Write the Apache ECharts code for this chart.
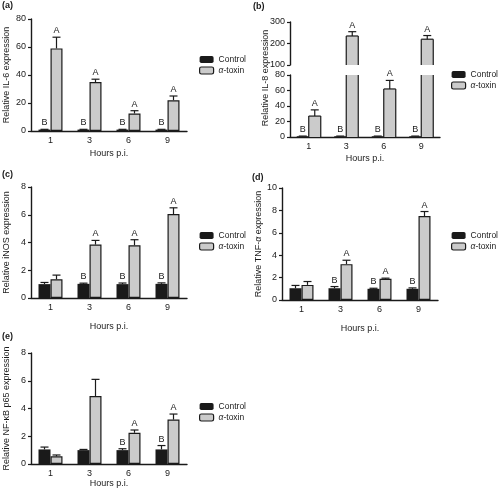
<!DOCTYPE html>
<html><head><meta charset="utf-8">
<script src="https://cdn.jsdelivr.net/npm/echarts@6/dist/echarts.min.js"></script>
<style>html,body{margin:0;padding:0;background:#fff}#c{width:500px;height:493px}</style>
</head><body><div id="c"></div>
<script>
// ---------- data ----------
const hours = ['1', '3', '6', '9'];
const groupNames = ['Control', 'α-toxin'];
const xTitle = 'Hours p.i.';

// (a) IL-6
const il6Ticks = [0, 20, 40, 60, 80];
const il6Control = [1, 1, 1, 1];
const il6ControlErr = [0.2, 0.2, 0.2, 0.2];
const il6Toxin = [59, 35, 12.5, 22];
const il6ToxinErr = [8, 2, 2, 3];
const il6ControlMarks = ['B', 'B', 'B', 'B'];
const il6ToxinMarks = ['A', 'A', 'A', 'A'];

// (b) IL-8 (broken axis)
const il8TicksLow = [0, 20, 40, 60, 80];
const il8TicksHigh = [100, 200, 300];
const il8Control = [1, 1, 1, 1];
const il8ControlErr = [0.2, 0.2, 0.2, 0.2];
const il8Toxin = [27, 235, 62, 220];
const il8ToxinErr = [8, 20, 11, 17];
const il8ControlMarks = ['B', 'B', 'B', 'B'];
const il8ToxinMarks = ['A', 'A', 'A', 'A'];

// (c) iNOS
const inosTicks = [0, 2, 4, 6, 8];
const inosControl = [1.0, 1.02, 1.0, 1.02];
const inosControlErr = [0.12, 0.05, 0.08, 0.07];
const inosToxin = [1.35, 3.85, 3.8, 6.05];
const inosToxinErr = [0.3, 0.3, 0.4, 0.45];
const inosControlMarks = ['', 'B', 'B', 'B'];
const inosToxinMarks = ['', 'A', 'A', 'A'];

// (d) TNF-α
const tnfTicks = [0, 2, 4, 6, 8, 10];
const tnfControl = [1.05, 1.05, 1.0, 1.0];
const tnfControlErr = [0.25, 0.15, 0.05, 0.08];
const tnfToxin = [1.35, 3.2, 1.9, 7.5];
const tnfToxinErr = [0.3, 0.35, 0.05, 0.4];
const tnfControlMarks = ['', 'B', 'B', 'B'];
const tnfToxinMarks = ['', 'A', 'A', 'A'];

// (e) NF-κB p65
const nfkbTicks = [0, 2, 4, 6, 8];
const nfkbControl = [1.05, 1.0, 1.0, 1.05];
const nfkbControlErr = [0.17, 0.05, 0.1, 0.28];
const nfkbToxin = [0.55, 4.9, 2.25, 3.2];
const nfkbToxinErr = [0.1, 1.2, 0.2, 0.4];
const nfkbControlMarks = ['', '', 'B', 'B'];
const nfkbToxinMarks = ['', '', 'A', 'A'];

// ---------- styling ----------
const FONT = '"Liberation Sans", Arial, Helvetica, sans-serif';
const INK = '#1a1a1a';
const TOX_FILL = '#cbcbcb';
const BAR_W = 12;
const CAP = 4;
const FS = 9;
const LFS = 8.5;

const option = {
  animation: false,
  textStyle: { fontFamily: FONT },
  title: [], grid: [], xAxis: [], yAxis: [], series: [], legend: []
};

function addAxes(rect, ticks, o) {
  const idx = option.grid.length;
  option.grid.push(Object.assign({}, rect));
  option.xAxis.push({
    gridIndex: idx, type: 'category', data: hours, show: o.showX !== false,
    axisLine: { lineStyle: { color: INK, width: 1.4 } },
    axisTick: { alignWithLabel: true, length: 3, lineStyle: { color: INK, width: 1.2 } },
    axisLabel: { color: INK, fontSize: FS, margin: 5, fontFamily: FONT },
    name: o.showX !== false ? xTitle : '', nameLocation: 'middle', nameGap: o.xNameGap || 18,
    nameTextStyle: { color: INK, fontSize: FS, fontFamily: FONT }
  });
  option.yAxis.push({
    gridIndex: idx, type: 'value',
    min: ticks[0], max: ticks[ticks.length - 1], interval: ticks[1] - ticks[0],
    splitLine: { show: false },
    axisLine: { show: true, lineStyle: { color: INK, width: 1.4 } },
    axisTick: { show: true, length: 3, lineStyle: { color: INK, width: 1.2 } },
    axisLabel: { color: INK, fontSize: FS, margin: 5, fontFamily: FONT },
    name: o.yName || '', nameLocation: 'middle', nameGap: o.yNameGap || 20, nameRotate: 90,
    nameTextStyle: {
      color: INK, fontSize: FS, fontFamily: FONT, padding: o.yNamePad || 0,
      rich: { it: { fontStyle: 'italic', fontSize: FS, fontFamily: FONT, color: INK } }
    }
  });
  return idx;
}

// error bars, letters and (for broken-axis panels) open-ended bar outlines
function errSeries(idx, vals, errs, marks, side, lo, hi, outline) {
  return {
    type: 'custom', name: 'err', xAxisIndex: idx, yAxisIndex: idx, z: 5, silent: true,
    data: vals.map((v, i) => [i, v, errs[i]]),
    renderItem(params, api) {
      const i = api.value(0), v = api.value(1), e = api.value(2);
      if (v < lo) return null;
      const ch = [];
      const base = api.coord([i, Math.min(v, hi)]);
      const x = base[0] + side * BAR_W / 2;
      if (outline) {
        const bottom = api.coord([i, Math.max(lo, 0)])[1];
        const xl = x - BAR_W / 2, xr = x + BAR_W / 2;
        const st = { stroke: INK, lineWidth: 1.2 };
        ch.push({ type: 'line', shape: { x1: xl, y1: bottom, x2: xl, y2: base[1] }, style: st });
        ch.push({ type: 'line', shape: { x1: xr, y1: bottom, x2: xr, y2: base[1] }, style: st });
        if (v <= hi) ch.push({ type: 'line', shape: { x1: xl, y1: base[1], x2: xr, y2: base[1] }, style: st });
      }
      if (v + e <= hi) {
        const top = api.coord([i, v + e]);
        ch.push({ type: 'line', shape: { x1: x, y1: base[1], x2: x, y2: top[1] }, style: { stroke: INK, lineWidth: 1.2 } });
        ch.push({ type: 'line', shape: { x1: x - CAP, y1: top[1], x2: x + CAP, y2: top[1] }, style: { stroke: INK, lineWidth: 1.2 } });
        const m = marks[params.dataIndex];
        if (m) ch.push({ type: 'text', style: { text: m, x: x, y: top[1] - 2, align: 'center', verticalAlign: 'bottom', fill: INK, fontSize: FS, fontFamily: FONT } });
      }
      return { type: 'group', children: ch };
    }
  };
}

function addBars(idx, d, lo, hi, broken) {
  option.series.push({ type: 'bar', name: groupNames[0], xAxisIndex: idx, yAxisIndex: idx, data: d.ctrl, barWidth: BAR_W, barGap: '0%', itemStyle: { color: INK } });
  option.series.push({ type: 'bar', name: groupNames[1], xAxisIndex: idx, yAxisIndex: idx, data: d.tox, barWidth: BAR_W, barGap: '0%',
    itemStyle: { color: TOX_FILL, borderColor: INK, borderWidth: broken ? 0 : 1.2 } });
  option.series.push(errSeries(idx, d.ctrl, d.ctrlErr, d.ctrlMarks, -1, lo, hi, false));
  option.series.push(errSeries(idx, d.tox, d.toxErr, d.toxMarks, 1, lo, hi, broken));
}

function addLegend(left, top) {
  option.legend.push({
    orient: 'vertical', left: left, top: top, padding: 0, itemWidth: 14, itemHeight: 7, itemGap: 2,
    selectedMode: false,
    data: [
      { name: groupNames[0], itemStyle: { color: INK, borderWidth: 0 } },
      { name: groupNames[1], itemStyle: { color: TOX_FILL, borderColor: INK, borderWidth: 1.2 } }
    ],
    formatter: n => n === groupNames[1] ? '{it|α}-toxin' : n,
    textStyle: { color: INK, fontSize: LFS, fontFamily: FONT, rich: { it: { fontStyle: 'italic', fontSize: LFS, fontFamily: FONT, color: INK } } }
  });
}

function addLabel(text, left, top) {
  option.title.push({ text: text, left: left, top: top, padding: 0, textStyle: { fontSize: FS, fontWeight: 'bold', color: INK, fontFamily: FONT } });
}

// (a)
let g = addAxes({ left: 31, top: 19, width: 156, height: 112 }, il6Ticks, { yName: 'Relative IL-6 expression', yNameGap: 20, xNameGap: 18 });
addBars(g, { ctrl: il6Control, ctrlErr: il6ControlErr, ctrlMarks: il6ControlMarks, tox: il6Toxin, toxErr: il6ToxinErr, toxMarks: il6ToxinMarks }, il6Ticks[0], il6Ticks[il6Ticks.length - 1], false);
addLegend(199, 55);
addLabel('(a)', 2, 1);

// (b) upper and lower segments
const il8Data = { ctrl: il8Control, ctrlErr: il8ControlErr, ctrlMarks: il8ControlMarks, tox: il8Toxin, toxErr: il8ToxinErr, toxMarks: il8ToxinMarks };
g = addAxes({ left: 290, top: 22, width: 150, height: 43 }, il8TicksHigh, { showX: false });
addBars(g, il8Data, il8TicksHigh[0], il8TicksHigh[il8TicksHigh.length - 1], true);
g = addAxes({ left: 290, top: 75, width: 150, height: 62 }, il8TicksLow, { yName: 'Relative IL-8 expression', yNameGap: 20, xNameGap: 17, yNamePad: [0, 0, 0, 56] });
addBars(g, il8Data, il8TicksLow[0], il8TicksLow[il8TicksLow.length - 1], true);
addLegend(451, 70);
addLabel('(b)', 253, 2);

// (c)
g = addAxes({ left: 31, top: 187, width: 156, height: 111 }, inosTicks, { yName: 'Relative iNOS expression', yNameGap: 20, xNameGap: 24 });
addBars(g, { ctrl: inosControl, ctrlErr: inosControlErr, ctrlMarks: inosControlMarks, tox: inosToxin, toxErr: inosToxinErr, toxMarks: inosToxinMarks }, inosTicks[0], inosTicks[inosTicks.length - 1], false);
addLegend(199, 231);
addLabel('(c)', 2, 170);

// (d)
g = addAxes({ left: 282, top: 188, width: 156, height: 112 }, tnfTicks, { yName: 'Relative TNF-{it|α} expression', yNameGap: 18, xNameGap: 24 });
addBars(g, { ctrl: tnfControl, ctrlErr: tnfControlErr, ctrlMarks: tnfControlMarks, tox: tnfToxin, toxErr: tnfToxinErr, toxMarks: tnfToxinMarks }, tnfTicks[0], tnfTicks[tnfTicks.length - 1], false);
addLegend(451, 231);
addLabel('(d)', 252, 173);

// (e)
g = addAxes({ left: 31, top: 353, width: 156, height: 111 }, nfkbTicks, { yName: 'Relative NF-κB p65 expression', yNameGap: 20, xNameGap: 15 });
addBars(g, { ctrl: nfkbControl, ctrlErr: nfkbControlErr, ctrlMarks: nfkbControlMarks, tox: nfkbToxin, toxErr: nfkbToxinErr, toxMarks: nfkbToxinMarks }, nfkbTicks[0], nfkbTicks[nfkbTicks.length - 1], false);
addLegend(199, 402);
addLabel('(e)', 2, 332);

const chart = echarts.init(document.getElementById('c'), null, { renderer: 'canvas' });
chart.setOption(option);
</script>
</body></html>
